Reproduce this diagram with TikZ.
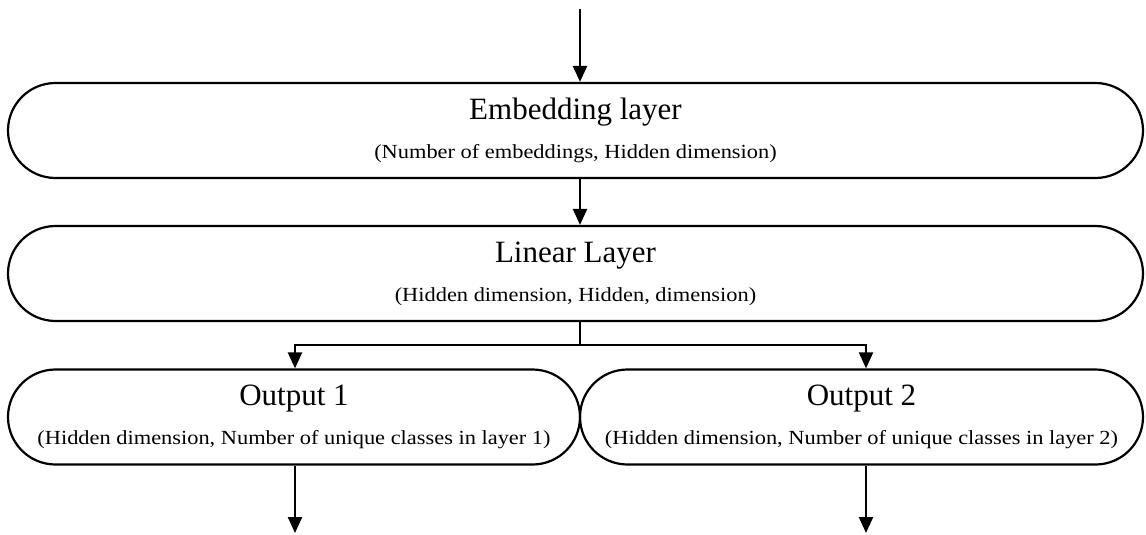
\documentclass[tikz,border=0pt]{standalone}
\usepackage{fontspec}
\setmainfont{Liberation Serif}
\newfontfamily\subfont{Liberation Serif}[FakeStretch=1.12]
\usetikzlibrary{arrows.meta}
\newcommand{\layertitle}[1]{{\rmfamily\fontsize{31}{36}\selectfont #1}}

\begin{document}
\begin{tikzpicture}[x=1pt,y=-1pt,
  layer/.style={draw,line width=2.2pt,rounded corners=47.5pt,minimum height=95pt,inner sep=0pt,align=center,font=\subfont\fontsize{20}{24}\selectfont},
  flow/.style={-{Triangle[length=16pt,width=14pt]},line width=2.2pt},
  bar/.style={line width=2.2pt}
]
\useasboundingbox (0,0) rectangle (1146,535);
\node[layer,minimum width=1135pt] (emb) at (575.5,130.5) {\layertitle{Embedding layer}\\[15pt](Number of embeddings, Hidden dimension)};
\node[layer,minimum width=1135pt] (lin) at (575.5,273.5) {\layertitle{Linear Layer}\\[15pt](Hidden dimension, Hidden, dimension)};
\node[layer,minimum width=572pt] (out1) at (294,417) {\layertitle{Output 1}\\[15pt](Hidden dimension, Number of unique classes in layer 1)};
\node[layer,minimum width=563pt] (out2) at (861.5,417) {\layertitle{Output 2}\\[15pt](Hidden dimension, Number of unique classes in layer 2)};
\coordinate (in) at (580,9);
\coordinate (split) at (580,345);
\coordinate (o1) at (295,533);
\coordinate (o2) at (866,533);
\draw[flow] (in) -- (in |- emb.north);
\draw[flow] (emb.south -| in) -- (lin.north -| in);
\draw[bar] (lin.south -| in) -- (split);
\draw[flow] (split) -| (out1.north -| o1);
\draw[flow] (split) -| (out2.north -| o2);
\foreach \o in {1,2} \draw[flow] (out\o.south -| o\o) -- (o\o);
\end{tikzpicture}
\end{document}
